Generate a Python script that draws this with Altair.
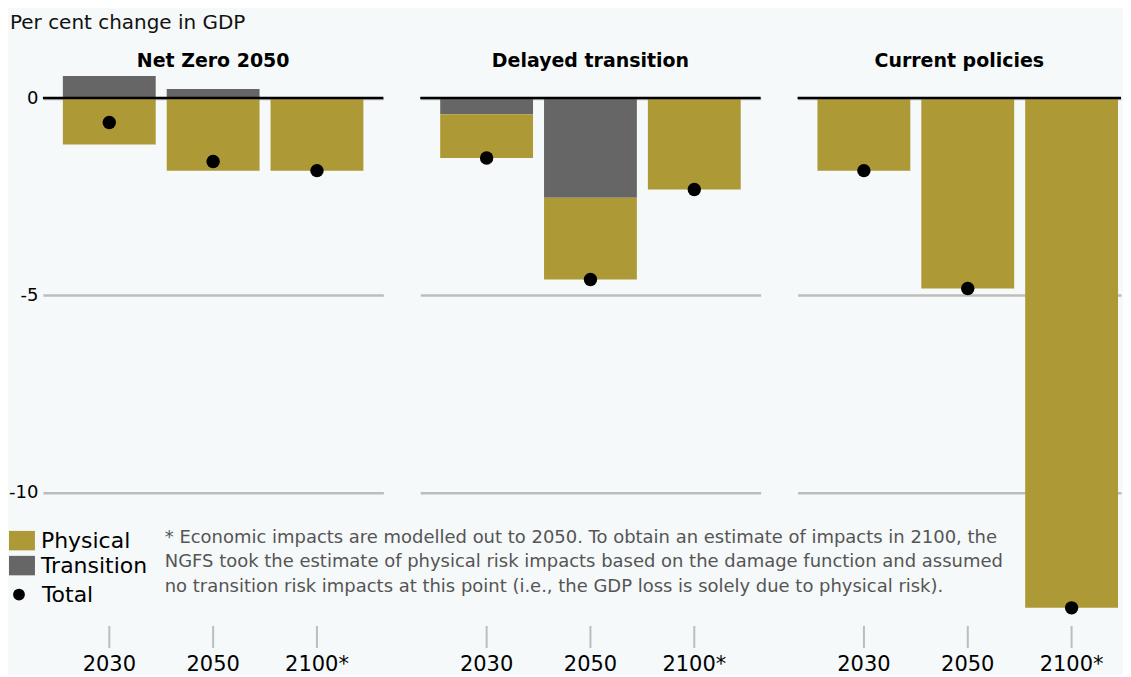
import altair as alt
import pandas as pd

scenarios = ["Net Zero 2050", "Delayed transition", "Current policies"]
years = ["2030", "2050", "2100*"]
physical = [[-1.18, -1.84, -1.84], [-1.11, -2.07, -2.32], [-1.84, -4.83, -12.93]]
transition = [[0.56, 0.23, 0.0], [-0.41, -2.53, 0.0], [0.0, 0.0, 0.0]]
total = [[-0.62, -1.61, -1.84], [-1.52, -4.60, -2.32], [-1.84, -4.83, -12.93]]
footnote = [
    "* Economic impacts are modelled out to 2050. To obtain an estimate of impacts in 2100, the",
    "NGFS took the estimate of physical risk impacts based on the damage function and assumed",
    "no transition risk impacts at this point (i.e., the GDP loss is solely due to physical risk).",
]

FONT = "DejaVu Sans"
OLIVE = "#ad9a36"
GREY = "#666666"
BG = "#f5f9f9"


def panel(i, width, po, align, first):
    rows = []
    for j, yr in enumerate(years):
        rows.append({"year": yr, "component": "Transition", "ord": 0, "value": transition[i][j]})
        rows.append({"year": yr, "component": "Physical", "ord": 1, "value": physical[i][j]})
    bars_df = pd.DataFrame(rows)
    pts_df = pd.DataFrame({"year": years, "total": total[i], "component": ["Total"] * 3})
    zero_df = pd.DataFrame({"v": [0]})

    xscale = alt.Scale(domain=years, paddingInner=0.106, paddingOuter=po, align=align)
    xaxis = alt.Axis(title=None, labelAngle=0, domain=False, tickColor="#bdbdbd",
                     tickWidth=2, tickSize=22, offset=7, labelFontSize=21,
                     labelColor="black", labelPadding=6, labelFont=FONT)
    yscale = alt.Scale(domain=[-13.2, 0.7], nice=False, zero=False)
    if first:
        yaxis = alt.Axis(title=None, values=[0, -5, -10], domain=False, ticks=False,
                         labelFontSize=18, labelColor="black", labelPadding=5, labelFont=FONT,
                         gridColor="#bdbdbd", gridWidth=2.5,
                         labelExpr="datum.value < 0 ? '-' + toString(-datum.value) : toString(datum.value)")
        clegend = alt.Legend(title=None, orient="none", legendX=-34, legendY=458,
                             symbolType="M-1,-0.75H1V0.75H-1Z", symbolSize=676,
                             symbolStrokeWidth=0, labelFontSize=22, labelFont=FONT,
                             labelColor="black", labelOffset=6, rowPadding=1, padding=0)
        slegend = alt.Legend(title=None, orient="none", legendX=-35, legendY=514,
                             symbolSize=140, symbolFillColor="black", symbolStrokeWidth=0,
                             labelFontSize=22, labelFont=FONT, labelColor="black",
                             labelOffset=12, padding=0)
    else:
        yaxis = alt.Axis(title=None, values=[0, -5, -10], domain=False, ticks=False,
                         labels=False, gridColor="#bdbdbd", gridWidth=2.5)
        clegend = None
        slegend = None

    bars = alt.Chart(bars_df).mark_bar().encode(
        x=alt.X("year:N", sort=years, scale=xscale, axis=xaxis),
        y=alt.Y("value:Q", stack="zero", scale=yscale, axis=yaxis),
        color=alt.Color("component:N",
                        scale=alt.Scale(domain=["Physical", "Transition"], range=[OLIVE, GREY]),
                        legend=clegend),
        order=alt.Order("ord:Q"),
    )
    rule = alt.Chart(zero_df).mark_rule(color="black", strokeWidth=2.5).encode(y="v:Q")
    pts = alt.Chart(pts_df).mark_point(filled=True, size=180, opacity=1, color="black").encode(
        x=alt.X("year:N", sort=years),
        y=alt.Y("total:Q"),
        shape=alt.Shape("component:N", scale=alt.Scale(domain=["Total"], range=["circle"]),
                        legend=slegend),
    )
    layers = [bars, rule, pts]
    if first:
        note = alt.Chart(pd.DataFrame({"a": [0]})).mark_text(
            text=footnote, align="left", baseline="top", fontSize=18, font=FONT,
            color="#555555", lineHeight=24.5,
        ).encode(x=alt.value(122), y=alt.value(459))
        layers.append(note)
    return alt.layer(*layers).properties(
        width=width, height=549,
        title=alt.TitleParams(scenarios[i], fontSize=19, fontWeight="bold", font=FONT,
                              color="black", anchor="middle", offset=-1),
    )


chart = alt.hconcat(
    panel(0, 341, 0.192, 0.5, True),
    panel(1, 341, 0.192, 0.5, False),
    panel(2, 324, 0.11, 0.87, False),
    spacing=37, bounds="flush",
).resolve_scale(color="independent", shape="independent").properties(
    title=alt.TitleParams("Per cent change in GDP", anchor="start", fontSize=20,
                          fontWeight="normal", font=FONT, color="#111111", offset=20, dx=2),
    background=BG,
    padding={"left": 0, "right": 0, "top": 4, "bottom": 0},
).configure_view(stroke=None)

chart.save("out.html", embed_options={"renderer": "svg", "actions": False})
